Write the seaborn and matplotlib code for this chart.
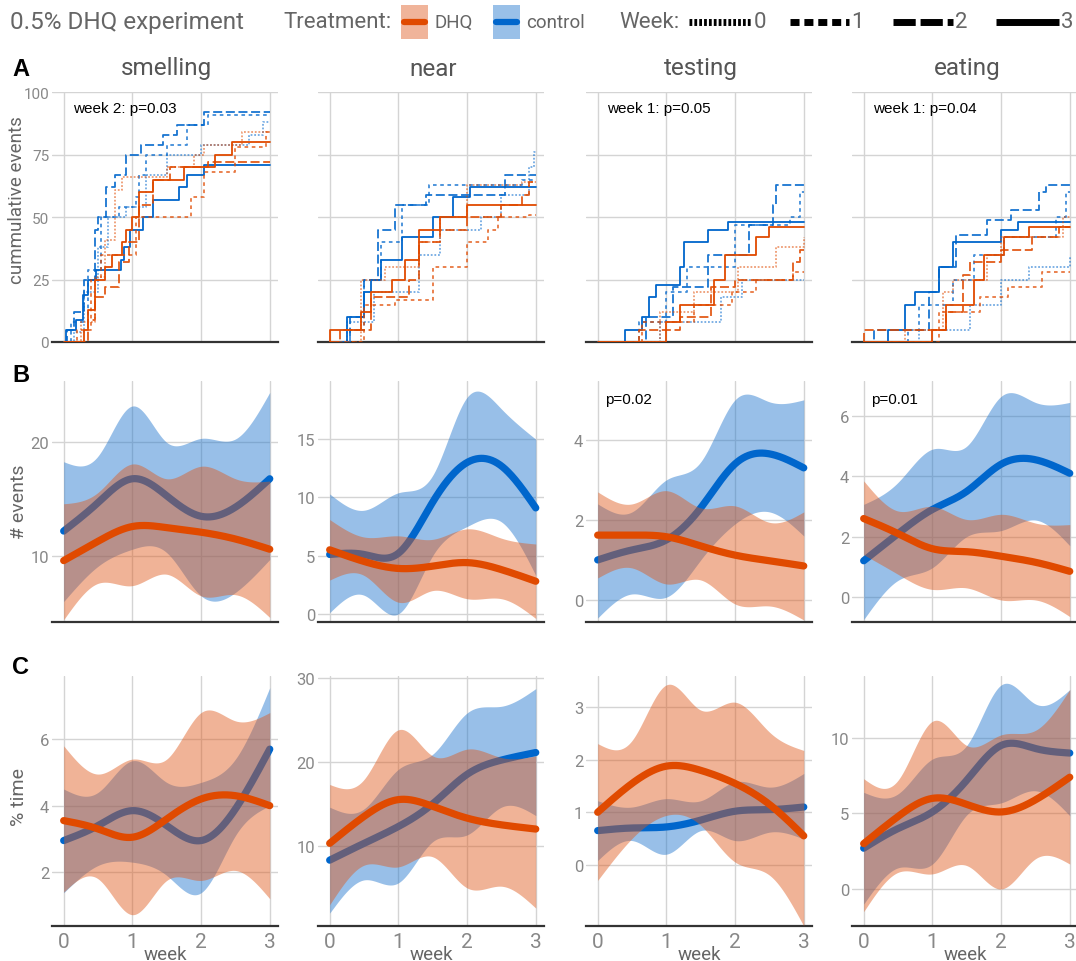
import numpy as np
import matplotlib
matplotlib.use("Agg")
import matplotlib.pyplot as plt
import seaborn as sns
from matplotlib.patches import Rectangle
from matplotlib.lines import Line2D

behaviours = ["smelling", "near", "testing", "eating"]
weeks = [0, 1, 2, 3]
knots = [0, 0.5, 1, 1.5, 2, 2.5, 3]

# --- A: cumulative events (% of total), step times and levels per (treatment, week)
cum_smelling = {
    ("control", 0): ([0.15, 0.3, 0.5, 0.65, 0.9, 1.2, 1.5, 2.0, 2.7, 2.9], [4, 20, 38, 50, 54, 67, 75, 79, 83, 88]),
    ("control", 1): ([0.1, 0.35, 0.55, 0.8, 1.05, 1.1, 1.2, 1.5, 1.8, 2.1], [8, 29, 50, 54, 58, 67, 75, 79, 87, 91]),
    ("control", 2): ([0.05, 0.15, 0.3, 0.45, 0.5, 0.62, 0.75, 0.9, 1.12, 1.45, 1.65, 2.05], [5, 12, 25, 45, 50, 62, 67, 75, 79, 83, 87, 92]),
    ("control", 3): ([0.03, 0.18, 0.28, 0.35, 0.47, 0.83, 0.88, 0.96, 1.15, 1.3, 1.68, 1.8, 2.05], [5, 9, 19, 25, 29, 33, 38, 45, 50, 57, 62, 67, 71]),
    ("DHQ", 0): ([0.25, 0.45, 0.6, 0.75, 0.85, 1.5, 1.9, 2.05, 2.6], [8, 26, 41, 61, 66, 70, 75, 79, 84]),
    ("DHQ", 1): ([0.2, 0.4, 0.55, 1.05, 1.85, 2.05, 2.5, 2.95], [5, 25, 35, 50, 58, 68, 78, 84]),
    ("DHQ", 2): ([0.35, 0.45, 0.6, 0.8, 0.95, 1.1, 1.3, 1.55, 2.1], [9, 18, 22, 32, 40, 55, 65, 70, 72]),
    ("DHQ", 3): ([0.3, 0.35, 0.45, 0.6, 0.7, 0.85, 0.9, 1.0, 1.1, 1.3, 1.75, 2.2, 2.45], [5, 13, 25, 30, 35, 40, 45, 50, 60, 65, 70, 75, 80]),
}
cum_near = {
    ("control", 0): ([0.25, 0.65, 1.3, 1.6, 2.2, 2.5, 2.9, 2.98], [8, 20, 35, 45, 50, 59, 70, 76]),
    ("control", 1): ([0.3, 0.5, 0.75, 1.05, 1.45, 2.8], [5, 25, 40, 55, 63, 65]),
    ("control", 2): ([0.3, 0.5, 0.7, 0.95, 1.4, 2.55], [10, 25, 45, 55, 59, 67]),
    ("control", 3): ([0.25, 0.5, 0.6, 0.75, 1.05, 1.5, 1.8, 2.05], [10, 20, 25, 33, 42, 50, 58, 62]),
    ("DHQ", 0): ([0.45, 0.8, 1.3, 1.6, 2.0, 2.8], [25, 30, 40, 50, 63, 64]),
    ("DHQ", 1): ([0.5, 0.95, 1.5, 2.0, 2.3, 2.45, 2.9], [15, 17, 30, 40, 45, 50, 51]),
    ("DHQ", 2): ([0.15, 0.6, 1.15, 1.3, 1.6, 2.0, 2.5, 2.8, 2.9], [5, 18, 25, 40, 45, 50, 55, 59, 64]),
    ("DHQ", 3): ([0.0, 0.45, 0.6, 0.9, 1.1, 1.3, 1.6, 2.0], [5, 12, 20, 25, 33, 45, 50, 55]),
}
cum_testing = {
    ("control", 0): ([0.9, 1.8, 2.1], [8, 18, 25]),
    ("control", 1): ([0.6, 1.0, 1.3, 2.0, 2.8, 2.95], [8, 20, 30, 47, 50, 60]),
    ("control", 2): ([0.7, 1.1, 1.6, 2.2, 2.55, 2.6], [10, 22, 35, 47, 55, 63]),
    ("control", 3): ([0.4, 0.65, 0.75, 0.85, 1.2, 1.25, 1.6, 1.9], [5, 10, 18, 23, 30, 40, 45, 48]),
    ("DHQ", 0): ([0.9, 1.4, 2.05, 2.6, 3.0], [12, 20, 30, 38, 42]),
    ("DHQ", 1): ([0.65, 1.4, 1.95, 2.3, 2.85], [8, 15, 20, 25, 28]),
    ("DHQ", 2): ([0.6, 1.2, 1.65, 2.0, 2.85, 2.95], [5, 10, 22, 25, 32, 37]),
    ("DHQ", 3): ([1.0, 1.2, 1.7, 1.85, 2.3, 2.5], [8, 15, 25, 35, 42, 46]),
}
cum_eating = {
    ("control", 0): ([0.8, 1.55, 2.0, 2.4, 3.0], [5, 15, 25, 30, 34]),
    ("control", 1): ([0.65, 0.8, 1.3, 1.6, 2.05, 2.8, 2.95], [5, 15, 25, 35, 42, 50, 60]),
    ("control", 2): ([0.15, 0.95, 1.1, 1.35, 1.8, 2.15, 2.55, 2.65], [5, 20, 30, 43, 49, 53, 60, 63]),
    ("control", 3): ([0.35, 0.6, 0.75, 1.1, 1.3, 2.0, 2.25], [5, 15, 20, 30, 40, 45, 48]),
    ("DHQ", 0): ([0.6, 1.15, 1.3, 1.8, 2.0, 2.9], [5, 20, 25, 35, 42, 50]),
    ("DHQ", 1): ([1.1, 1.7, 2.1, 2.6], [12, 18, 22, 28]),
    ("DHQ", 2): ([0.0, 1.2, 1.45, 1.55, 2.0, 2.45, 2.85], [5, 12, 27, 32, 37, 42, 46]),
    ("DHQ", 3): ([1.0, 1.2, 1.6, 1.75, 2.05, 2.4], [5, 15, 25, 35, 42, 46]),
}
cum_data = {"smelling": cum_smelling, "near": cum_near, "testing": cum_testing, "eating": cum_eating}
cum_notes = {"smelling": "week 2: p=0.03", "testing": "week 1: p=0.05", "eating": "week 1: p=0.04"}

# --- B: number of events, fitted mean and band at the knots
events_ctrl_mean = {"smelling": [12.2, 14.7, 16.8, 15.3, 13.5, 14.3, 16.8], "near": [5.1, 5.1, 5.2, 9.6, 13.0, 12.7, 9.1],
                    "testing": [1.0, 1.25, 1.5, 2.3, 3.4, 3.65, 3.3], "eating": [1.2, 2.1, 2.9, 3.5, 4.4, 4.55, 4.1]}
events_ctrl_lo = {"smelling": [6.0, 9.1, 10.6, 10.3, 6.5, 6.8, 9.7], "near": [0.1, 1.6, 0.0, 5.0, 7.5, 7.9, 3.3],
                  "testing": [-0.45, 0.15, 0.07, 1.0, 1.9, 2.2, 1.6], "eating": [-0.75, 0.55, 0.97, 2.0, 2.2, 2.55, 1.7]}
events_ctrl_hi = {"smelling": [18.3, 18.8, 23.2, 20.0, 20.35, 20.3, 24.4], "near": [10.3, 8.9, 10.4, 11.9, 18.6, 17.6, 15.0],
                  "testing": [2.4, 2.2, 3.0, 3.45, 5.0, 4.95, 5.0], "eating": [3.07, 3.8, 4.9, 5.0, 6.65, 6.45, 6.45]}
events_dhq_mean = {"smelling": [9.6, 11.3, 12.6, 12.5, 12.1, 11.5, 10.6], "near": [5.5, 4.5, 3.9, 4.1, 4.4, 3.8, 2.8],
                   "testing": [1.62, 1.62, 1.58, 1.35, 1.12, 0.98, 0.85], "eating": [2.6, 2.1, 1.6, 1.5, 1.35, 1.15, 0.85]}
events_dhq_lo = {"smelling": [4.4, 7.6, 7.4, 8.4, 6.5, 6.6, 4.6], "near": [2.9, 3.3, 1.0, 2.0, 1.3, 1.3, -0.4],
                 "testing": [0.55, 0.8, 0.4, 0.5, -0.1, -0.15, -0.5], "eating": [1.4, 0.75, 0.25, 0.3, -0.1, -0.1, -0.65]}
events_dhq_hi = {"smelling": [14.6, 15.6, 18.1, 16.8, 17.9, 16.8, 16.6], "near": [8.1, 6.6, 6.7, 6.4, 7.3, 6.5, 6.0],
                 "testing": [2.7, 2.4, 2.73, 2.3, 2.35, 1.94, 2.2], "eating": [3.85, 2.85, 3.0, 2.57, 2.74, 2.45, 2.4]}
events_notes = {"testing": "p=0.02", "eating": "p=0.01"}
events_ticks = {"smelling": [10, 20], "near": [0, 5, 10, 15], "testing": [0, 2, 4], "eating": [0, 2, 4, 6]}
events_ylim = {"smelling": (4.2, 25.4), "near": (-0.7, 20), "testing": (-0.55, 5.47), "eating": (-0.83, 7.16)}

# --- C: % time
time_ctrl_mean = {"smelling": [2.95, 3.4, 3.85, 3.4, 2.95, 3.9, 5.7], "near": [8.3, 10.3, 12.3, 15.0, 18.5, 20.2, 21.1],
                  "testing": [0.65, 0.7, 0.72, 0.85, 1.02, 1.05, 1.1], "eating": [2.7, 4.0, 5.1, 7.2, 9.5, 9.3, 9.0]}
time_ctrl_lo = {"smelling": [1.38, 2.2, 2.3, 1.9, 1.38, 3.1, 4.0], "near": [2.0, 5.95, 5.6, 10.5, 11.3, 14.6, 13.6],
                "testing": [0.08, 0.46, 0.2, 0.65, 0.46, 0.62, 0.49], "eating": [-1.0, 1.4, 1.65, 4.9, 5.7, 6.5, 4.85]}
time_ctrl_hi = {"smelling": [4.5, 4.4, 5.35, 4.7, 4.7, 5.4, 7.55], "near": [14.6, 14.4, 19.1, 20.9, 25.8, 26.6, 28.7],
                "testing": [1.22, 1.1, 1.26, 1.22, 1.58, 1.48, 1.74], "eating": [6.4, 6.3, 8.6, 9.5, 13.5, 12.25, 13.2]}
time_dhq_mean = {"smelling": [3.55, 3.3, 3.05, 3.6, 4.2, 4.3, 4.0], "near": [10.3, 13.5, 15.5, 14.7, 13.3, 12.5, 12.0],
                 "testing": [1.0, 1.55, 1.88, 1.8, 1.55, 1.15, 0.55], "eating": [3.0, 4.8, 6.0, 5.6, 5.1, 5.9, 7.4]}
time_dhq_lo = {"smelling": [1.4, 1.8, 0.72, 1.75, 1.75, 2.05, 1.2], "near": [3.0, 7.7, 7.5, 8.7, 5.0, 5.2, 2.6],
               "testing": [-0.3, 0.5, 0.94, 0.75, 0.05, -0.2, -1.17], "eating": [-1.5, 1.1, 1.0, 1.55, 0.0, 2.0, 1.65]}
time_dhq_hi = {"smelling": [5.8, 4.95, 5.4, 5.4, 6.8, 6.55, 6.8], "near": [17.3, 17.9, 23.8, 20.7, 21.5, 20.5, 20.7],
               "testing": [2.31, 2.37, 3.43, 2.95, 3.1, 2.53, 2.18], "eating": [7.3, 7.2, 11.1, 9.5, 10.2, 10.5, 13.2]}
time_ticks = {"smelling": [2, 4, 6], "near": [10, 20, 30], "testing": [0, 1, 2, 3], "eating": [0, 5, 10]}
time_ylim = {"smelling": (0.38, 7.9), "near": (0.47, 30.2), "testing": (-1.17, 3.6), "eating": (-2.45, 14.1)}

ctrl_line, ctrl_fill = "#0066cc", "#1c73cc"
dhq_line, dhq_fill = "#e04a00", "#de581a"
week_dash = {0: (1, 1), 1: (2, 2), 2: (5, 2), 3: None}
legend_dash = {0: (0.4, 0.3), 1: (1.3, 0.7), 2: (3.2, 0.7), 3: None}
week_alpha = {0: 0.55, 1: 0.75, 2: 0.9, 3: 1.0}
grey = "#666666"


def spline(xk, yk, n=300):
    # natural cubic spline through the knots (smooth line shape)
    x = np.asarray(xk, float)
    y = np.asarray(yk, float)
    m = len(x)
    h = np.diff(x)
    A = np.zeros((m, m))
    r = np.zeros(m)
    A[0, 0] = A[-1, -1] = 1
    for i in range(1, m - 1):
        A[i, i - 1] = h[i - 1]
        A[i, i] = 2 * (h[i - 1] + h[i])
        A[i, i + 1] = h[i]
        r[i] = 3 * ((y[i + 1] - y[i]) / h[i] - (y[i] - y[i - 1]) / h[i - 1])
    c = np.linalg.solve(A, r)
    b = (y[1:] - y[:-1]) / h - h * (2 * c[:-1] + c[1:]) / 3
    d = (c[1:] - c[:-1]) / (3 * h)
    xs = np.linspace(x[0], x[-1], n)
    idx = np.clip(np.searchsorted(x, xs, side="right") - 1, 0, m - 2)
    t = xs - x[idx]
    ys = y[idx] + b[idx] * t + c[idx] * t ** 2 + d[idx] * t ** 3
    return xs, ys


sns.set_style("white")
plt.rcParams["font.family"] = ["Roboto", "DejaVu Sans"]

W, H = 1076, 962
fig = plt.figure(figsize=(W / 100, H / 100), dpi=100)

col_left = [52, 318, 586, 852]
rows = {"A": (93, 343), "B": (382, 623), "C": (677, 927)}


def make_ax(col, row):
    top, bot = rows[row]
    ax = fig.add_axes([col_left[col] / W, 1 - bot / H, 226 / W, (bot - top) / H])
    ax.set_xlim(-0.17, 3.12)
    ax.set_xticks([0, 1, 2, 3])
    ax.grid(True, color="#d4d4d4", lw=1)
    ax.set_axisbelow(True)
    for s in ["top", "right", "left"]:
        ax.spines[s].set_visible(False)
    ax.spines["bottom"].set_color("#333333")
    ax.spines["bottom"].set_linewidth(1.6)
    ax.tick_params(length=0, labelcolor="#888888", labelsize=12, pad=2)
    ax.set_xlabel("")
    ax.set_ylabel("")
    return ax


def band_panel(ax, c_mean, c_lo, c_hi, d_mean, d_lo, d_hi):
    xs, lo = spline(knots, c_lo)
    _, hi = spline(knots, c_hi)
    ax.fill_between(xs, lo, hi, color=ctrl_fill, alpha=0.45, lw=0, zorder=2)
    xs, ym = spline(knots, c_mean)
    sns.lineplot(x=xs, y=ym, ax=ax, color=ctrl_line, lw=5.2, sort=False, zorder=3)
    xs, lo = spline(knots, d_lo)
    _, hi = spline(knots, d_hi)
    ax.fill_between(xs, lo, hi, color=dhq_fill, alpha=0.45, lw=0, zorder=4)
    xs, ym = spline(knots, d_mean)
    sns.lineplot(x=xs, y=ym, ax=ax, color=dhq_line, lw=5.2, sort=False, zorder=5)


for j, b in enumerate(behaviours):
    # row A
    ax = make_ax(j, "A")
    for (trt, wk), (sx, sy) in cum_data[b].items():
        xx = [0] + list(sx) + [3]
        yy = [0] + list(sy) + [sy[-1]]
        line, = ax.plot(xx, yy, drawstyle="steps-post", lw=1.3,
                        color=ctrl_line if trt == "control" else dhq_line, alpha=week_alpha[wk], zorder=3)
        if week_dash[wk] is not None:
            line.set_dashes(week_dash[wk])
    ax.set_ylim(0, 100)
    ax.set_yticks([0, 25, 50, 75, 100])
    ax.tick_params(axis="y", labelsize=11)
    ax.set_xticklabels([])
    if j > 0:
        ax.set_yticklabels([])
    if b in cum_notes:
        ax.text(0.095, 0.965, cum_notes[b], transform=ax.transAxes, ha="left", va="top", fontsize=11,
                color="black", family=["Liberation Sans", "DejaVu Sans"])
    fig.text((col_left[j] + 115) / W, 1 - 69 / H, b, ha="center", va="center", fontsize=17.5, color="#555555")

    # row B
    ax = make_ax(j, "B")
    band_panel(ax, events_ctrl_mean[b], events_ctrl_lo[b], events_ctrl_hi[b],
               events_dhq_mean[b], events_dhq_lo[b], events_dhq_hi[b])
    ax.set_ylim(*events_ylim[b])
    ax.set_yticks(events_ticks[b])
    ax.set_xticklabels([])
    if b in events_notes:
        ax.text(0.085, 0.955, events_notes[b], transform=ax.transAxes, ha="left", va="top", fontsize=11,
                color="black", family=["Liberation Sans", "DejaVu Sans"])

    # row C
    ax = make_ax(j, "C")
    band_panel(ax, time_ctrl_mean[b], time_ctrl_lo[b], time_ctrl_hi[b],
               time_dhq_mean[b], time_dhq_lo[b], time_dhq_hi[b])
    ax.set_ylim(*time_ylim[b])
    ax.set_yticks(time_ticks[b])
    ax.tick_params(axis="x", labelsize=15, labelcolor="#888888", pad=4)
    ax.set_xlabel("week", fontsize=13.5, color=grey, labelpad=-4)

# y labels and panel letters
fig.text(17 / W, 1 - 200 / H, "cummulative events", rotation=90, ha="center", va="center", fontsize=13.5, color=grey)
fig.text(19 / W, 1 - 502 / H, "# events", rotation=90, ha="center", va="center", fontsize=14, color=grey)
fig.text(19 / W, 1 - 797 / H, "% time", rotation=90, ha="center", va="center", fontsize=14, color=grey)
for letter, yy in [("A", 70), ("B", 375), ("C", 668)]:
    fig.text(12 / W, 1 - yy / H, letter, ha="left", va="center", fontsize=17, fontweight="bold", color="black",
             family=["Liberation Sans", "DejaVu Sans"])

# header legend
hy = 1 - 23 / H
fig.text(10 / W, hy, "0.5% DHQ experiment", ha="left", va="center", fontsize=17.5, color=grey)
fig.text(283 / W, hy, "Treatment:", ha="left", va="center", fontsize=16, color=grey)
for x0, fill, lc, lab in [(401, "#f0b49a", dhq_line, "DHQ"), (493, "#99c0e8", ctrl_line, "control")]:
    fig.add_artist(Rectangle((x0 / W, 1 - 40 / H), 27 / W, 34 / H, transform=fig.transFigure,
                             facecolor=fill, edgecolor="none"))
    fig.add_artist(Line2D([(x0 + 3) / W, (x0 + 24) / W], [hy, hy], transform=fig.transFigure, color=lc, lw=4.5))
    fig.text((x0 + 33) / W, hy, lab, ha="left", va="center", fontsize=13.5, color=grey)
fig.text(619 / W, hy, "Week:", ha="left", va="center", fontsize=16, color=grey)
for wk, (x0, x1) in zip(weeks, [(689, 752), (790, 849), (893, 953), (996, 1059)]):
    ln = Line2D([x0 / W, x1 / W], [hy, hy], transform=fig.transFigure, color="black", lw=5)
    ln.set_solid_capstyle("butt")
    ln.set_dash_capstyle("butt")
    if legend_dash[wk] is not None:
        ln.set_dashes(legend_dash[wk])
    fig.add_artist(ln)
    fig.text((x1 + 2) / W, hy, str(wk), ha="left", va="center", fontsize=16, color=grey)

fig.savefig("out.png", dpi=100)
